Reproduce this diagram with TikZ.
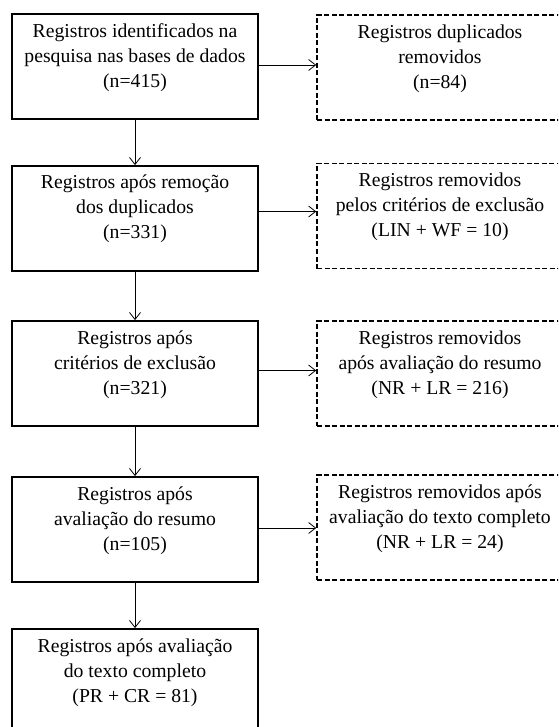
\documentclass[tikz,border=0pt]{standalone}
\usepackage{fontspec}
\setmainfont{Liberation Serif}
\usetikzlibrary{arrows.meta}
\begin{document}
\begin{tikzpicture}[x=1pt,y=1pt,
  solidbox/.style={draw, line width=1.8pt, minimum width=246pt, minimum height=105pt, inner sep=0pt},
  dashbox/.style={draw, line width=1.6pt, dash pattern=on 5pt off 2.5pt, minimum width=246pt, minimum height=105pt, inner sep=0pt},
  boxtext/.style={anchor=north, yshift=-10pt, align=center, inner sep=0pt, font=\fontsize{19.7}{25}\selectfont},
  arr/.style={line width=0.8pt, -{Straight Barb[length=7pt,width=11pt,line width=0.8pt]}}]
\path[use as bounding box, fill=white] (0,0) rectangle (558,-727);
\clip (0,0) rectangle (558,-727);
% left column
\node[solidbox] (l1) at (135,-66.5) {};
\node[solidbox] (l2) at (135,-218.5) {};
\node[solidbox] (l3) at (135,-373.5) {};
\node[solidbox] (l4) at (135,-529.5) {};
\node[solidbox] (l5) at (135,-681.5) {};
% right column
\node[dashbox] (r1) at (440,-67.5) {};
\node[dashbox] (r2) at (440,-216) {};
\node[dashbox] (r3) at (440,-373.5) {};
\node[dashbox] (r4) at (440,-527.5) {};
% texts
\node[boxtext] (t1) at (l1.north) {Registros identificados na\\pesquisa nas bases de dados\\(n=415)};
\node[boxtext] (t2) at (l2.north) {Registros após remoção\\dos duplicados\\(n=331)};
\node[boxtext] (t3) at (l3.north) {Registros após\\critérios de exclusão\\(n=321)};
\node[boxtext] (t4) at (l4.north) {Registros após\\avaliação do resumo\\(n=105)};
\node[boxtext] (t5) at (l5.north) {Registros após avaliação\\do texto completo\\(PR + CR = 81)};
\node[boxtext] (s1) at (r1.north) {Registros duplicados\\removidos\\(n=84)};
\node[boxtext] (s2) at (r2.north) {Registros removidos\\pelos critérios de exclusão\\(LIN + WF = 10)};
\node[boxtext] (s3) at (r3.north) {Registros removidos\\após avaliação do resumo\\(NR + LR = 216)};
\node[boxtext] (s4) at (r4.north) {Registros removidos após\\avaliação do texto completo\\(NR + LR = 24)};
% vertical arrows
\draw[arr] (l1.south) -- (l2.north);
\draw[arr] (l2.south) -- (l3.north);
\draw[arr] (l3.south) -- (l4.north);
\draw[arr] (l4.south) -- (l5.north);
% horizontal arrows
\draw[arr] ([yshift=1.5pt]l1.east) -- ([yshift=1.5pt]l1.east -| r1.west);
\draw[arr] ([yshift=7pt]l2.east) -- ([yshift=7pt]l2.east -| r2.west);
\draw[arr] ([yshift=3pt]l3.east) -- ([yshift=3pt]l3.east -| r3.west);
\draw[arr] ([yshift=1.5pt]l4.east) -- ([yshift=1.5pt]l4.east -| r4.west);
\end{tikzpicture}
\end{document}
